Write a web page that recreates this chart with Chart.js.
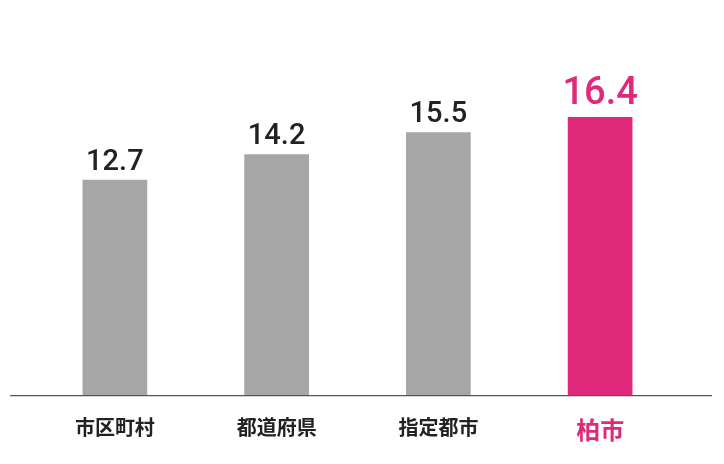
<!DOCTYPE html>
<html><head><meta charset="utf-8">
<script src="https://cdn.jsdelivr.net/npm/chart.js@4"></script>
<style>html,body{margin:0;background:#fff}#w{width:724px;height:464px}</style>
</head><body><div id="w"><canvas id="c"></canvas></div>
<script>
const categories = ["市区町村","都道府県","指定都市","柏市"];
const values = [12.7, 14.2, 15.5, 16.4];
const colors = ["#a6a6a6","#a6a6a6","#a6a6a6","#e0297a"];
const labelColors = ["#222","#222","#222","#e0297a"];
const fontFam = "'Noto Sans CJK JP','Noto Sans',sans-serif";
const plug = {
  id:'p',
  afterDatasetsDraw(ch){
    const ctx=ch.ctx, meta=ch.getDatasetMeta(0), y0=ch.scales.y.getPixelForValue(0);
    ctx.save();
    ctx.strokeStyle='#555'; ctx.lineWidth=1.2;
    ctx.beginPath(); ctx.moveTo(10,y0+0.5); ctx.lineTo(712,y0+0.5); ctx.stroke();
    meta.data.forEach((b,i)=>{
      const big=i===3;
      ctx.fillStyle=labelColors[i];
      ctx.font=(big?'500 38px ':'500 29px ')+"Roboto,"+fontFam;
      ctx.textAlign='center'; ctx.textBaseline='bottom';
      ctx.fillText(values[i].toFixed(1), b.x, b.y-(big?4:3));
    });
    ctx.restore();
  }
};
new Chart(document.getElementById('c'),{
  type:'bar',
  data:{labels:categories,datasets:[{data:values,backgroundColor:colors,barPercentage:0.4,categoryPercentage:1}]},
  options:{responsive:true,maintainAspectRatio:false,animation:false,
    layout:{padding:{left:34,right:43,top:0,bottom:8}},
    plugins:{legend:{display:false},tooltip:{enabled:false}},
    scales:{
      y:{display:false,min:0,max:23.3},
      x:{grid:{display:false},border:{display:false},
        ticks:{padding:12,color:labelColors,font:(c)=>({family:fontFam,weight:'bold',size:c.index===3?24:20})}}
    }},
  plugins:[plug]
});
</script></body></html>
